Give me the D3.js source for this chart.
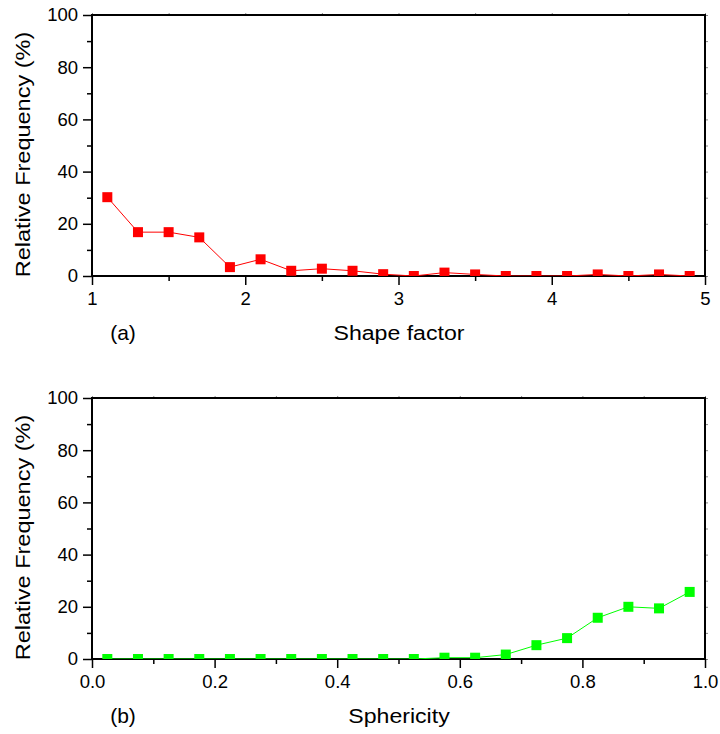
<!DOCTYPE html>
<html><head><meta charset="utf-8">
<script src="https://cdn.jsdelivr.net/npm/d3@7"></script>
<style>
body{margin:0;background:#fff}
svg text{font-family:"Liberation Sans",Arial,Helvetica,sans-serif;fill:#000}
</style>
</head><body>
<svg id="chart" width="720" height="734"></svg>
<script>
// ---- data ----
const shapeFactor = [1.1,1.3,1.5,1.7,1.9,2.1,2.3,2.5,2.7,2.9,3.1,3.3,3.5,3.7,3.9,4.1,4.3,4.5,4.7,4.9];
const shapeFreq   = [30.2,16.8,16.8,14.8,3.4,6.4,2.0,2.8,2.0,0.7,0,1.3,0.6,0,0,0,0.6,0,0.6,0];
const sphericity  = [0.025,0.075,0.125,0.175,0.225,0.275,0.325,0.375,0.425,0.475,0.525,0.575,0.625,0.675,0.725,0.775,0.825,0.875,0.925,0.975];
const sphFreq     = [0,0,0,0,0,0,0,0,0,0,0,0.5,0.5,1.7,5.3,8.0,15.8,20.0,19.4,25.7];
const shapeTicks  = [1,2,3,4,5];
const shapeMinor  = [1.5,2.5,3.5,4.5];
const sphTicks    = [0,0.2,0.4,0.6,0.8,1.0];
const sphMinor    = [0.1,0.3,0.5,0.7,0.9];
const freqTicks   = [0,20,40,60,80,100];
const freqMinor   = [10,30,50,70,90];
const yTitle      = "Relative Frequency (%)";

const svg = d3.select("#chart");

function panel(opt){
  const L = 92, R = 705, T = opt.top, B = opt.top + 261;
  const x = d3.scaleLinear().domain(opt.xDomain).range([L, R]);
  const y = d3.scaleLinear().domain([0,100]).range([B, T]);
  const g = svg.append("g");

  const clipId = "clip" + opt.id;
  svg.append("clipPath").attr("id", clipId)
    .append("rect").attr("x", L).attr("y", T).attr("width", R-L).attr("height", B-T);

  const styleAx = s => { s.select(".domain").remove(); s.selectAll("line").attr("stroke","#000").attr("stroke-width",1.5); };
  // minor ticks
  g.append("g").attr("transform",`translate(0,${B})`)
    .call(d3.axisBottom(x).tickValues(opt.xMinor).tickSize(5).tickFormat(""))
    .call(styleAx);
  g.append("g").attr("transform",`translate(${L},0)`)
    .call(d3.axisLeft(y).tickValues(freqMinor).tickSize(5).tickFormat(""))
    .call(styleAx);
  // top/right tiny ticks
  g.append("g").attr("transform",`translate(0,${T})`)
    .call(d3.axisTop(x).tickValues(opt.xTicks.concat(opt.xMinor)).tickSize(2).tickFormat(""))
    .call(s=>{s.select(".domain").remove(); s.selectAll("line").attr("stroke","#888").attr("stroke-width",1);});
  g.append("g").attr("transform",`translate(${R},0)`)
    .call(d3.axisRight(y).tickValues(freqTicks.concat(freqMinor)).tickSize(3).tickFormat(""))
    .call(s=>{s.select(".domain").remove(); s.selectAll("line").attr("stroke","#888").attr("stroke-width",1);});

  // major axes
  const xa = g.append("g").attr("transform",`translate(0,${B})`)
    .call(d3.axisBottom(x).tickValues(opt.xTicks).tickSize(9).tickPadding(7).tickFormat(opt.xFmt));
  styleAx(xa);
  const ya = g.append("g").attr("transform",`translate(${L},0)`)
    .call(d3.axisLeft(y).tickValues(freqTicks).tickSize(9).tickPadding(5).tickFormat(d3.format("d")));
  styleAx(ya);
  g.selectAll(".tick text").attr("font-size","18.5px").attr("font-family",'"Liberation Sans",Arial,sans-serif').attr("fill","#000");

  // frame
  g.append("rect").attr("x",L).attr("y",T).attr("width",R-L).attr("height",B-T)
    .attr("fill","none").attr("stroke","#000").attr("stroke-width",2);

  // data
  const pts = opt.xs.map((v,i)=>[v, opt.ys[i]]);
  const dg = g.append("g").attr("clip-path",`url(#${clipId})`);
  dg.append("path").datum(pts)
    .attr("d", d3.line().x(d=>x(d[0])).y(d=>y(d[1])))
    .attr("fill","none").attr("stroke",opt.color).attr("stroke-width",1);
  const ms = 10;
  dg.selectAll("rect.m").data(pts).join("rect").attr("class","m")
    .attr("x", d=>x(d[0])-ms/2).attr("y", d=>y(d[1])-ms/2)
    .attr("width", ms).attr("height", ms).attr("fill", opt.color);

  // titles
  g.append("text").attr("x", 399).attr("y", B+64).attr("text-anchor","middle")
    .attr("font-size","21px").attr("transform-origin",`399px ${B+64}px`)
    .attr("transform","scale(1.1,1)").text(opt.xTitle);
  g.append("text").attr("x", 123).attr("y", B+64).attr("text-anchor","middle")
    .attr("font-size","21px").text(opt.tag);
  g.append("text").attr("transform",`translate(30,${(T+B)/2+9}) rotate(-90) scale(1.12,1)`)
    .attr("text-anchor","middle").attr("font-size","21px").text(yTitle);
}

panel({id:"a", top:15, xDomain:[1,5], xTicks:shapeTicks, xMinor:shapeMinor, xFmt:d3.format("d"),
  xs:shapeFactor, ys:shapeFreq, color:"#ff0000", xTitle:"Shape factor", tag:"(a)"});
panel({id:"b", top:398, xDomain:[0,1], xTicks:sphTicks, xMinor:sphMinor, xFmt:d3.format(".1f"),
  xs:sphericity, ys:sphFreq, color:"#00ff00", xTitle:"Sphericity", tag:"(b)"});
</script>
</body></html>
